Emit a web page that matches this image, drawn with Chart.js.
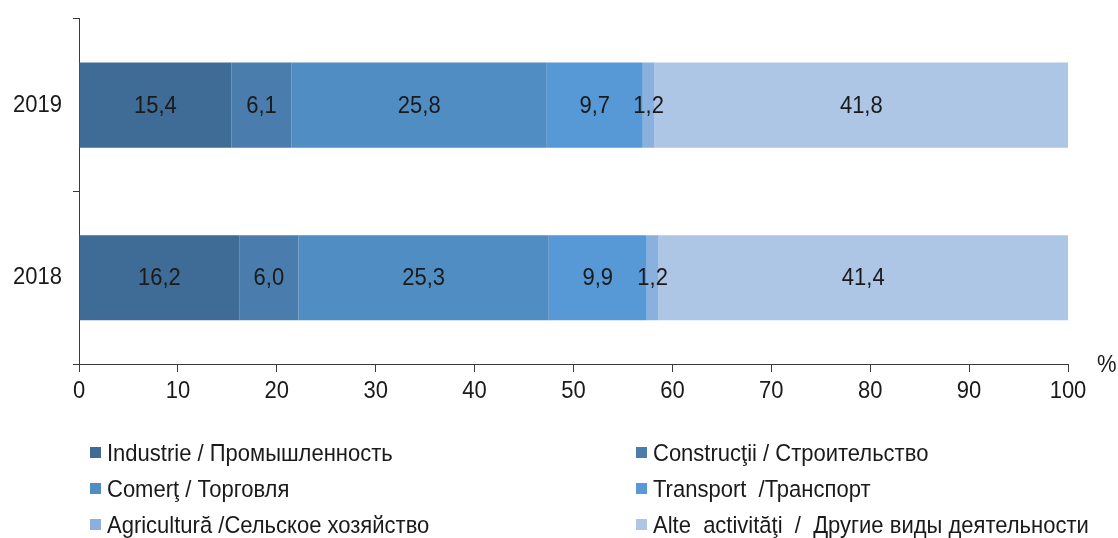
<!DOCTYPE html>
<html>
<head>
<meta charset="utf-8">
<script src="https://cdn.jsdelivr.net/npm/chart.js@4.4.0/dist/chart.umd.min.js"></script>
<style>
  html, body { margin: 0; padding: 0; background: #fff; }
  #wrap { position: relative; width: 1118px; height: 538px; }
  #legend { position: absolute; left: 0; top: 0; width: 1118px; height: 538px; pointer-events: none;
    font-family: "Liberation Sans", Arial, sans-serif; font-size: 22px; color: #1a1a1a; }
  .sw { position: absolute; width: 11px; height: 11px; }
  .tx { position: absolute; white-space: pre; height: 24px; line-height: 24px; transform: scaleY(1.12); transform-origin: 0 50%; }
</style>
</head>
<body>
<div id="wrap">
  <canvas id="c" width="1118" height="538"></canvas>
  <div id="legend"></div>
</div>
<script>
const years = ["2019", "2018"];
const seriesNames = [
  "Industrie / Промышленность",
  "Construcţii / Строительство",
  "Comerţ / Торговля",
  "Transport  /Транспорт",
  "Agricultură /Сельское хозяйство",
  "Alte  activităţi  /  Другие виды деятельности"
];
const industrie = [15.4, 16.2];
const constructii = [6.1, 6.0];
const comert = [25.8, 25.3];
const transport = [9.7, 9.9];
const agricultura = [1.2, 1.2];
const alte = [41.8, 41.4];
const xTicks = [0, 10, 20, 30, 40, 50, 60, 70, 80, 90, 100];
const colors = ["#3F6C96", "#4A7DAD", "#508DC2", "#5699D6", "#8AB0DD", "#ADC6E5"];

const seriesValues = [industrie, constructii, comert, transport, agricultura, alte];

const FONT = '"Liberation Sans", Arial, sans-serif';
const TXT = '#1a1a1a';
const SY = 1.12;

function drawText(ctx, text, x, y, align) {
  ctx.save();
  ctx.translate(x, y);
  ctx.scale(1, SY);
  ctx.textAlign = align;
  ctx.textBaseline = 'middle';
  ctx.fillText(text, 0, 0);
  ctx.restore();
}

const labelPlugin = {
  id: 'labels',
  afterDatasetsDraw(chart) {
    const ctx = chart.ctx;
    ctx.save();
    ctx.font = '22px ' + FONT;
    ctx.fillStyle = TXT;
    chart.data.datasets.forEach((ds, i) => {
      const meta = chart.getDatasetMeta(i);
      meta.data.forEach((bar, j) => {
        const cx = (bar.x + bar.base) / 2;
        drawText(ctx, ds.data[j].toFixed(1).replace('.', ','), cx, bar.y + 1, 'center');
      });
    });
    ctx.restore();
  },
  afterDraw(chart) {
    const ctx = chart.ctx;
    ctx.save();
    ctx.font = '22px ' + FONT;
    ctx.fillStyle = TXT;
    const xs = chart.scales.x, ys = chart.scales.y;
    xTicks.forEach(v => drawText(ctx, String(v), xs.getPixelForValue(v), xs.top + 27, 'center'));
    years.forEach((y, i) => drawText(ctx, y, ys.right - 17, ys.getPixelForValue(i), 'right'));
    drawText(ctx, '%', xs.right + 29, xs.top + 1, 'left');
    ctx.restore();
  }
};

new Chart(document.getElementById('c'), {
  type: 'bar',
  data: {
    labels: years,
    datasets: seriesNames.map((n, i) => ({
      label: n,
      data: seriesValues[i],
      backgroundColor: colors[i],
      borderWidth: 0,
      barPercentage: 0.493,
      categoryPercentage: 1
    }))
  },
  options: {
    indexAxis: 'y',
    responsive: false,
    animation: false,
    layout: { padding: { top: 12, right: 50, left: 0, bottom: 0 } },
    plugins: { legend: { display: false }, tooltip: { enabled: false } },
    scales: {
      x: {
        stacked: true,
        min: 0, max: 100,
        afterBuildTicks(s) { s.ticks = xTicks.map(v => ({ value: v })); },
        afterFit(s) { s.height = 538 - 364; },
        grid: { drawOnChartArea: false, drawTicks: true, tickLength: 8, color: '#3a3a3a', lineWidth: 1 },
        border: { color: '#3a3a3a', width: 1 },
        ticks: { color: 'rgba(0,0,0,0)', font: { family: FONT, size: 18 }, padding: 4, maxRotation: 0 }
      },
      y: {
        stacked: true,
        afterFit(s) { s.width = 79; },
        grid: { drawOnChartArea: false, drawTicks: true, tickLength: 6, offset: true, color: '#3a3a3a' },
        border: { color: '#3a3a3a', width: 1 },
        ticks: { color: 'rgba(0,0,0,0)', font: { family: FONT, size: 18 }, padding: 8 }
      }
    }
  },
  plugins: [labelPlugin]
});

// legend (two columns)
const legend = document.getElementById('legend');
const colX = [90, 636];
const rowY = [452.5, 488.5, 524.5];
seriesNames.forEach((n, i) => {
  const cx = colX[i % 2];
  const cy = rowY[Math.floor(i / 2)];
  const sw = document.createElement('div');
  sw.className = 'sw';
  sw.style.left = cx + 'px';
  sw.style.top = (cy - 5.5) + 'px';
  sw.style.background = colors[i];
  legend.appendChild(sw);
  const t = document.createElement('div');
  t.className = 'tx';
  t.style.left = (cx + 17) + 'px';
  t.style.top = (cy - 12) + 'px';
  t.textContent = n;
  legend.appendChild(t);
});
</script>
</body>
</html>
